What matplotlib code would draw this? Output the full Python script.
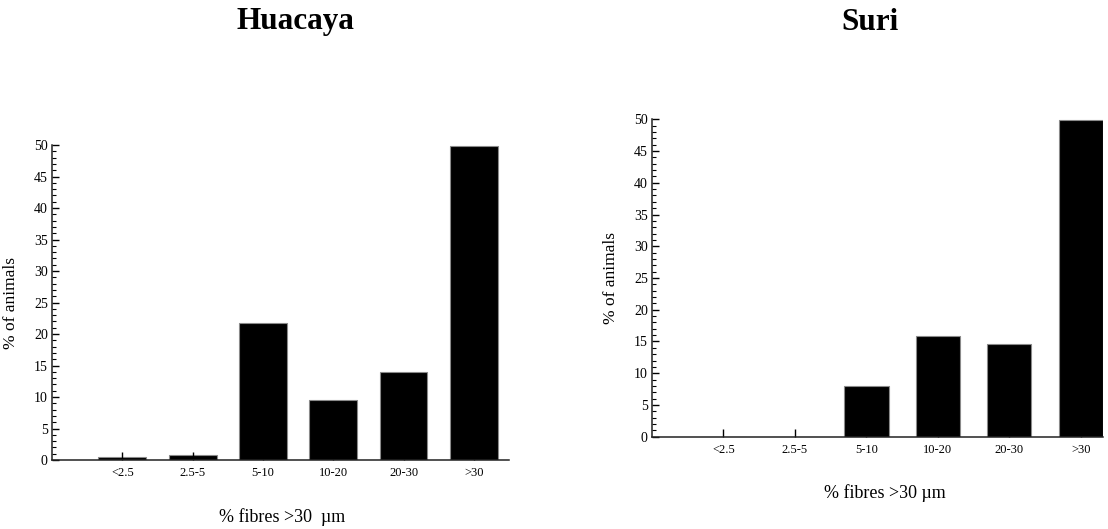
import matplotlib
matplotlib.use("Agg")
import matplotlib.pyplot as plt
from matplotlib.ticker import MultipleLocator
import numpy as np

plt.rcParams['font.family'] = ['Liberation Serif', 'DejaVu Serif']

# categories of % fibres > 30 um
categories = ["<2.5", "2.5-5", "5-10", "10-20", "20-30", ">30"]

# % of animals per category
huacaya = [0.4, 0.8, 21.8, 9.5, 14.0, 49.9]
suri = [0.0, 0.0, 8.0, 15.9, 14.6, 49.9]

fig = plt.figure(figsize=(11.08, 5.29), dpi=100)

# axes rectangles in figure fractions (right panel is cut off at the edge)
ax1 = fig.add_axes([0.0469, 0.1304, 0.4125, 0.5955])
ax2 = fig.add_axes([0.5884, 0.1745, 0.4070, 0.6000])


def style_panel(ax, values, width, xmax, xlab, xlab_x, xlab_y):
    x = np.arange(len(categories))
    ax.bar(x, values, width=width, color='black', edgecolor='#8a8a8a',
           linewidth=0.8, zorder=1)
    ax.set_xlim(-1, xmax)
    ax.set_ylim(0, 50)
    ax.set_xticks(x)
    ax.set_xticklabels(categories, fontsize=9)
    ax.yaxis.set_major_locator(MultipleLocator(5))
    ax.yaxis.set_minor_locator(MultipleLocator(1))
    ax.tick_params(axis='y', which='major', direction='in', length=5,
                   width=1, pad=3, labelsize=10)
    ax.tick_params(axis='y', which='minor', direction='in', length=3, width=0.8)
    ax.tick_params(axis='x', which='major', direction='in', length=6,
                   width=1, pad=5)
    for side in ['top', 'right']:
        ax.spines[side].set_visible(False)
    for side in ['left', 'bottom']:
        ax.spines[side].set_linewidth(1.1)
        ax.spines[side].set_color('#222222')
    ax.set_ylabel('% of animals', fontsize=12.5)
    ax.yaxis.set_label_coords(-0.073, 0.5)
    ax.set_xlabel(xlab, fontsize=13)
    ax.xaxis.set_label_coords(xlab_x, xlab_y)


style_panel(ax1, huacaya, 0.68, 5.5, '% fibres >30  \u00b5m', 0.503, -0.152)
style_panel(ax2, suri, 0.62, 5.31, '% fibres >30 \u00b5m', 0.517, -0.149)

fig.text(295 / 1108, 1 - 22 / 529, 'Huacaya', fontsize=22.5, fontweight='bold',
         ha='center', va='center')
fig.text(870 / 1108, 1 - 22 / 529, 'Suri', fontsize=22.5, fontweight='bold',
         ha='center', va='center')

fig.savefig('out.png', dpi=100)
